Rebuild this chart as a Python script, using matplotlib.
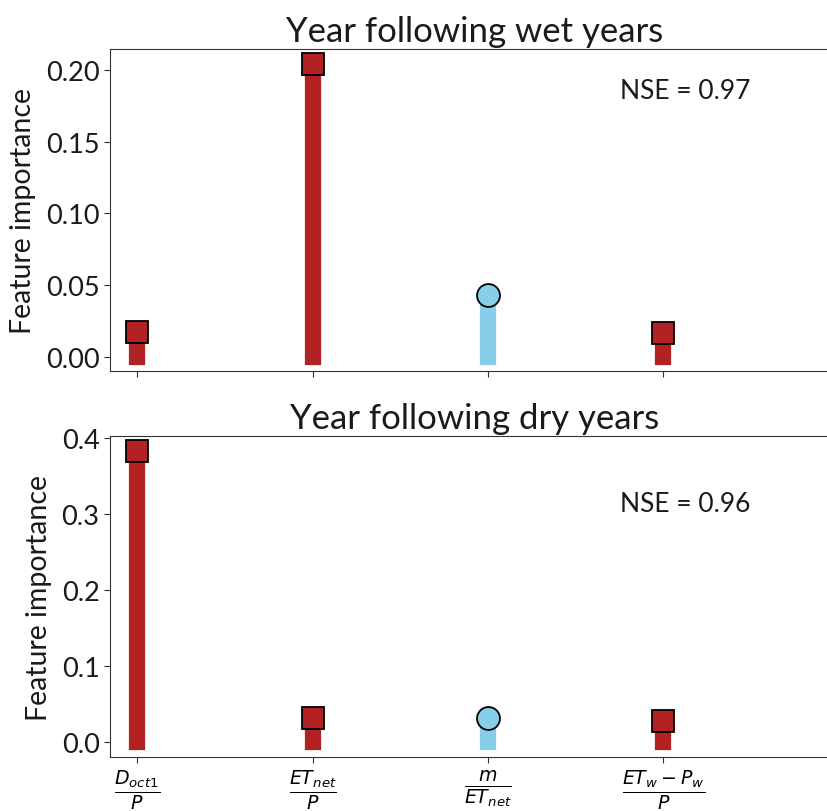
import matplotlib
matplotlib.use("Agg")
from matplotlib import pyplot as plt

# Feature importances from the random-forest runs
FEATURES = [r'$\frac{D_{oct1}}{P}$', r'$\frac{ET_{net}}{P}$',
            r'$\frac{m}{ET_{net}}$', r'$\frac{ET_w - P_w}{P}$']
WET_IMPORTANCE = [0.0175, 0.204, 0.0432, 0.017]
DRY_IMPORTANCE = [0.383, 0.0316, 0.031, 0.028]
MARKERS = ['s', 's', 'o', 's']
COLORS = ['firebrick', 'firebrick', 'skyblue', 'firebrick']
TITLES = ["Year following wet years", "Year following dry years"]
NSE = [0.97, 0.96]
YTICKS = [[0.0, 0.05, 0.10, 0.15, 0.20], [0.0, 0.1, 0.2, 0.3, 0.4]]
YFMT = ['{:.2f}', '{:.1f}']
YLIMS = [(-0.0098, 0.2146), (-0.0197, 0.4026)]

plt.rcParams['font.family'] = ['Lato', 'DejaVu Sans']
plt.rcParams['text.color'] = '#1a1a1a'
plt.rcParams['axes.labelcolor'] = '#1a1a1a'
plt.rcParams['ytick.labelcolor'] = '#1a1a1a'

fig = plt.figure(figsize=(8.27, 8.12), dpi=100)
ax_top = fig.add_axes([0.133, 0.5419, 0.8815, 0.3966])
ax_bot = fig.add_axes([0.133, 0.0665, 0.8815, 0.3953])


def draw_panel(ax, values, title, nse, yticks, yfmt, ylim, show_x):
    """ Stem-style bars with a marker on top of each feature """
    xs = list(range(len(values)))
    stems = ax.vlines(xs, 0, values, colors=COLORS, linewidth=11.7)
    stems.set_capstyle('projecting')
    for x, v, m, c in zip(xs, values, MARKERS, COLORS):
        ax.plot([x], [v], marker=m, markersize=16.5, color=c,
                markeredgecolor='black', markeredgewidth=1.3, zorder=3)
    ax.set_xlim(-0.154, 4.0)
    ax.set_ylim(*ylim)
    ax.set_yticks(yticks)
    ax.set_yticklabels([yfmt.format(t) for t in yticks])
    ax.set_xticks(xs)
    if show_x:
        ax.set_xticklabels(FEATURES, fontsize=19.5)
    else:
        ax.set_xticklabels([])
    ax.tick_params(axis='y', labelsize=19.5, length=4, color='#333333')
    ax.tick_params(axis='x', length=4, color='#333333')
    for sp in ax.spines.values():
        sp.set_color('#333333')
    ax.set_ylabel("Feature importance", fontsize=20.5, labelpad=7)
    ax.set_title(title, fontsize=25)
    ypos = 0.87 if not show_x else 0.79
    ax.text(0.700, ypos, "NSE = {:.2f}".format(nse),
            transform=ax.transAxes, fontsize=19, va='center', ha='left')


draw_panel(ax_top, WET_IMPORTANCE, TITLES[0], NSE[0], YTICKS[0], YFMT[0],
           YLIMS[0], False)
draw_panel(ax_bot, DRY_IMPORTANCE, TITLES[1], NSE[1], YTICKS[1], YFMT[1],
           YLIMS[1], True)

fig.savefig("out.png", dpi=100)
